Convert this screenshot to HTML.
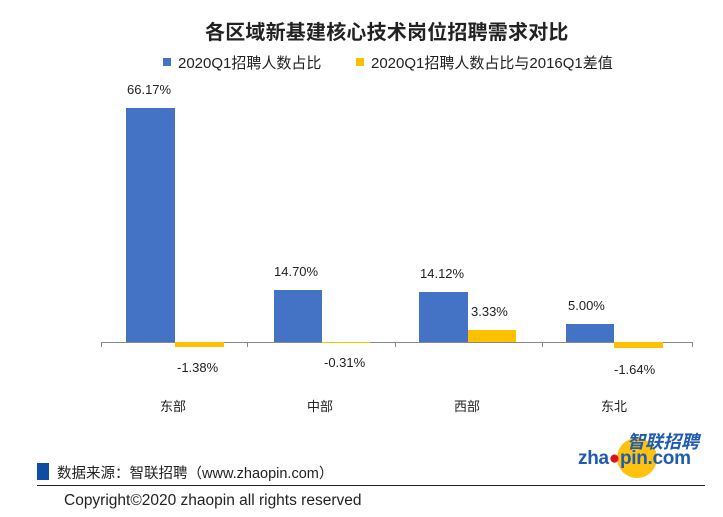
<!DOCTYPE html>
<html><head><meta charset="utf-8"><style>
body{margin:0;width:723px;height:517px;background:#fff;position:relative;overflow:hidden;font-family:"Liberation Sans","Noto Sans CJK SC",sans-serif;color:#222}
.a{position:absolute;white-space:nowrap}
.b{position:absolute;background:#4472C4}
.y{position:absolute;background:#FFC000}
.l{font-size:13px}
</style></head><body>
<div class="a" style="left:205px;top:16px;font-size:20px;font-weight:bold;letter-spacing:0.2px">各区域新基建核心技术岗位招聘需求对比</div>
<div class="a" style="left:163px;top:58px;width:8px;height:8px;background:#4472C4"></div>
<div class="a" style="left:178px;top:52px;font-size:15px">2020Q1招聘人数占比</div>
<div class="a" style="left:356px;top:58px;width:8px;height:8px;background:#FFC000"></div>
<div class="a" style="left:371px;top:52px;font-size:15px">2020Q1招聘人数占比与2016Q1差值</div>

<div class="a" style="left:101px;top:342px;width:592px;height:1px;background:#888"></div>
<div class="a" style="left:101px;top:342px;width:1px;height:5px;background:#888"></div>
<div class="a" style="left:247px;top:342px;width:1px;height:5px;background:#888"></div>
<div class="a" style="left:395px;top:342px;width:1px;height:5px;background:#888"></div>
<div class="a" style="left:542px;top:342px;width:1px;height:5px;background:#888"></div>
<div class="a" style="left:692px;top:342px;width:1px;height:5px;background:#888"></div>

<div class="b" style="left:126px;top:108px;width:49px;height:234px"></div>
<div class="y" style="left:175px;top:342px;width:49px;height:5px"></div>
<div class="b" style="left:274px;top:290px;width:48px;height:52px"></div>
<div class="y" style="left:322px;top:342px;width:48px;height:1px"></div>
<div class="b" style="left:419px;top:292px;width:49px;height:50px"></div>
<div class="y" style="left:468px;top:330px;width:48px;height:12px"></div>
<div class="b" style="left:566px;top:324px;width:48px;height:18px"></div>
<div class="y" style="left:614px;top:342px;width:49px;height:6px"></div>

<div class="a l" style="left:127px;top:82px">66.17%</div>
<div class="a l" style="left:274px;top:264px">14.70%</div>
<div class="a l" style="left:420px;top:266px">14.12%</div>
<div class="a l" style="left:471px;top:304px">3.33%</div>
<div class="a l" style="left:568px;top:298px">5.00%</div>
<div class="a l" style="left:177px;top:360px">-1.38%</div>
<div class="a l" style="left:324px;top:355px">-0.31%</div>
<div class="a l" style="left:614px;top:362px">-1.64%</div>

<div class="a l" style="left:160px;top:396px">东部</div>
<div class="a l" style="left:307px;top:396px">中部</div>
<div class="a l" style="left:454px;top:396px">西部</div>
<div class="a l" style="left:601px;top:396px">东北</div>

<div class="a" style="left:37px;top:463px;width:12px;height:17px;background:#0E4DA4"></div>
<div class="a" style="left:57px;top:462px;font-size:14.5px">数据来源：智联招聘（www.zhaopin.com）</div>
<div class="a" style="left:37px;top:485px;width:668px;height:1px;background:#222"></div>
<div class="a" style="left:64px;top:492px;font-size:15.5px">Copyright©2020  zhaopin all rights reserved</div>

<div class="a" style="left:617px;top:438px;width:40px;height:40px;border-radius:50%;background:#FFC20E"></div>
<div class="a" style="left:627px;top:432px;font-size:18px;line-height:20px;font-weight:bold;font-style:italic;color:#1F5BB0">智联招聘</div>
<div class="a" style="left:578px;top:449px;font-size:19px;line-height:20px;font-weight:bold;color:#1F5BB0;letter-spacing:-0.3px">zha<span style="color:#D12">●</span>pin.com</div>
</body></html>
